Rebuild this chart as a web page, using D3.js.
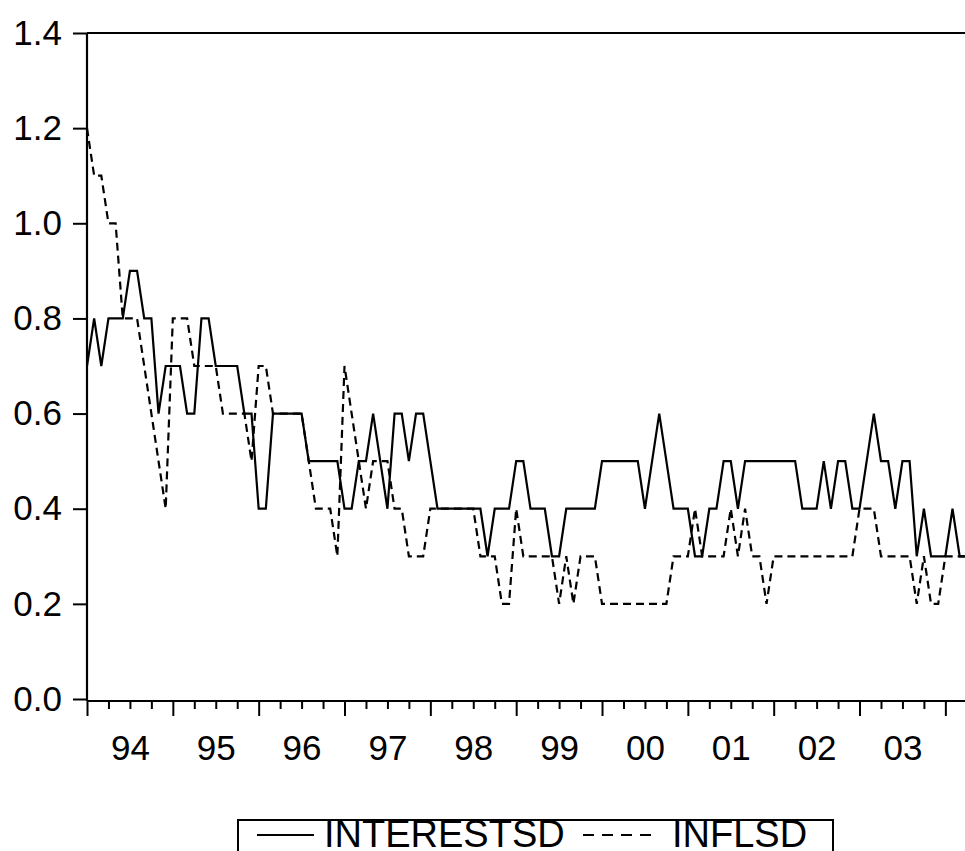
<!DOCTYPE html>
<html>
<head>
<meta charset="utf-8">
<script src="https://cdn.jsdelivr.net/npm/d3@7"></script>
<style>
  html, body { margin: 0; padding: 0; background: #fff; }
  svg { display: block; }
  text { font-family: "Liberation Sans", Arial, sans-serif; fill: #000; }
</style>
</head>
<body>
<svg id="chart" width="965" height="851"></svg>
<script>
// ---- data (monthly, 1994:01 onwards) ----
const startYear = 1994;
const interestSD = [
  0.7,0.8,0.7,0.8,0.8,0.8,0.9,0.9,0.8,0.8,0.6,0.7,
  0.7,0.7,0.6,0.6,0.8,0.8,0.7,0.7,0.7,0.7,0.6,0.6,
  0.4,0.4,0.6,0.6,0.6,0.6,0.6,0.5,0.5,0.5,0.5,0.5,
  0.4,0.4,0.5,0.5,0.6,0.5,0.4,0.6,0.6,0.5,0.6,0.6,
  0.5,0.4,0.4,0.4,0.4,0.4,0.4,0.4,0.3,0.4,0.4,0.4,
  0.5,0.5,0.4,0.4,0.4,0.3,0.3,0.4,0.4,0.4,0.4,0.4,
  0.5,0.5,0.5,0.5,0.5,0.5,0.4,0.5,0.6,0.5,0.4,0.4,
  0.4,0.3,0.3,0.4,0.4,0.5,0.5,0.4,0.5,0.5,0.5,0.5,
  0.5,0.5,0.5,0.5,0.4,0.4,0.4,0.5,0.4,0.5,0.5,0.4,
  0.4,0.5,0.6,0.5,0.5,0.4,0.5,0.5,0.3,0.4,0.3,0.3,
  0.3,0.4,0.3,0.3
];
const inflSD = [
  1.2,1.1,1.1,1.0,1.0,0.8,0.8,0.8,0.7,0.6,0.5,0.4,
  0.8,0.8,0.8,0.7,0.7,0.7,0.7,0.6,0.6,0.6,0.6,0.5,
  0.7,0.7,0.6,0.6,0.6,0.6,0.6,0.5,0.4,0.4,0.4,0.3,
  0.7,0.6,0.5,0.4,0.5,0.5,0.5,0.4,0.4,0.3,0.3,0.3,
  0.4,0.4,0.4,0.4,0.4,0.4,0.4,0.3,0.3,0.3,0.2,0.2,
  0.4,0.3,0.3,0.3,0.3,0.3,0.2,0.3,0.2,0.3,0.3,0.3,
  0.2,0.2,0.2,0.2,0.2,0.2,0.2,0.2,0.2,0.2,0.3,0.3,
  0.3,0.4,0.3,0.3,0.3,0.3,0.4,0.3,0.4,0.3,0.3,0.2,
  0.3,0.3,0.3,0.3,0.3,0.3,0.3,0.3,0.3,0.3,0.3,0.3,
  0.4,0.4,0.4,0.3,0.3,0.3,0.3,0.3,0.2,0.3,0.2,0.2,
  0.3,0.3,0.3,0.3
];
const yearLabels = ["94","95","96","97","98","99","00","01","02","03"];
const yTicks = [0.0,0.2,0.4,0.6,0.8,1.0,1.2,1.4];
const seriesNames = ["INTERESTSD","INFLSD"];

// month categories
const months = interestSD.map((_, i) => {
  const yr = startYear + Math.floor(i / 12);
  return yr + ":" + String(i % 12 + 1).padStart(2, "0");
});

(function draw() {
  const svg = d3.select("#chart");
  const nObs = months.length;
  const pLeft = 87, pTop = 33, zeroY = 699, axisY = 701;
  const monthW = 7.153;
  const x = d3.scaleLinear().domain([0, nObs - 1]).range([pLeft, pLeft + monthW * (nObs - 1)]);
  const y = d3.scaleLinear().domain([0, 1.4]).range([zeroY, pTop]);
  const pRight = x(nObs - 1);
  const FS = 35, LFS = 38;

  // frame
  const frame = svg.append("g").attr("stroke", "#000").attr("stroke-width", 2.2).attr("fill", "none");
  frame.append("line").attr("x1", pLeft).attr("x2", pRight).attr("y1", pTop).attr("y2", pTop);
  frame.append("line").attr("x1", pLeft).attr("x2", pLeft).attr("y1", pTop).attr("y2", axisY);
  frame.append("line").attr("x1", pLeft).attr("x2", pRight).attr("y1", axisY).attr("y2", axisY);
  frame.append("line").attr("x1", pRight).attr("x2", pRight).attr("y1", pTop).attr("y2", axisY);

  // y axis
  const yAxis = svg.append("g").attr("transform", `translate(${pLeft},0)`)
    .call(d3.axisLeft(y).tickValues(yTicks).tickFormat(d3.format(".1f")).tickSize(14).tickPadding(11));
  yAxis.select(".domain").remove();
  yAxis.selectAll(".tick line").attr("stroke", "#000").attr("stroke-width", 2);
  yAxis.selectAll("text").style("font-size", FS + "px").attr("fill", "#000");

  // x axis: major (year) and minor (quarter) ticks
  const majorTicks = d3.range(0, nObs, 12);
  const minorTicks = d3.range(0, nObs, 3).filter(d => d % 12 !== 0);
  const xMajor = svg.append("g").attr("transform", `translate(0,${axisY})`)
    .call(d3.axisBottom(x).tickValues(majorTicks).tickSize(15).tickFormat(""));
  const xMinor = svg.append("g").attr("transform", `translate(0,${axisY})`)
    .call(d3.axisBottom(x).tickValues(minorTicks).tickSize(8).tickFormat(""));
  [xMajor, xMinor].forEach(g => {
    g.select(".domain").remove();
    g.selectAll(".tick line").attr("stroke", "#000").attr("stroke-width", 2);
  });
  const labelPos = yearLabels.map((_, k) => 6 + 12 * k);
  const xLab = svg.append("g").attr("transform", `translate(0,${axisY})`)
    .call(d3.axisBottom(x).tickValues(labelPos).tickSize(0).tickPadding(34)
      .tickFormat((d, i) => yearLabels[i]));
  xLab.select(".domain").remove();
  xLab.selectAll("text").style("font-size", FS + "px").attr("fill", "#000");

  // lines
  svg.append("clipPath").attr("id", "plotclip").append("rect")
    .attr("x", pLeft).attr("y", pTop - 5).attr("width", pRight - pLeft).attr("height", axisY - pTop + 5);
  const line = d3.line().x((d, i) => x(i)).y(d => y(d));
  const plot = svg.append("g").attr("clip-path", "url(#plotclip)");
  plot.append("path").datum(inflSD).attr("d", line)
    .attr("fill", "none").attr("stroke", "#000").attr("stroke-width", 2.2)
    .attr("stroke-dasharray", "8,5");
  plot.append("path").datum(interestSD).attr("d", line)
    .attr("fill", "none").attr("stroke", "#000").attr("stroke-width", 2.2);

  // legend
  const lg = svg.append("g");
  lg.append("rect").attr("x", 238).attr("y", 820).attr("width", 595).attr("height", 60)
    .attr("fill", "none").attr("stroke", "#000").attr("stroke-width", 2);
  const legY = 835, legBase = 847;
  lg.append("line").attr("x1", 257).attr("x2", 314).attr("y1", legY).attr("y2", legY)
    .attr("stroke", "#000").attr("stroke-width", 2);
  lg.append("text").attr("x", 324).attr("y", legBase)
    .style("font-size", LFS + "px").text(seriesNames[0]);
  lg.append("line").attr("x1", 583).attr("x2", 658).attr("y1", legY).attr("y2", legY)
    .attr("stroke", "#000").attr("stroke-width", 2).attr("stroke-dasharray", "11,8");
  lg.append("text").attr("x", 672).attr("y", legBase)
    .style("font-size", LFS + "px").text(seriesNames[1]);
})();
</script>
</body>
</html>
